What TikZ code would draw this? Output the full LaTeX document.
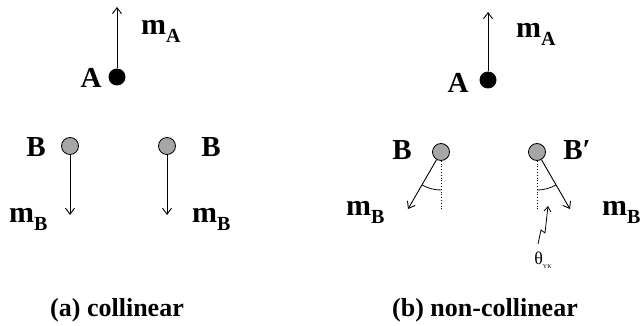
\documentclass[tikz,border=0pt]{standalone}
\usepackage{fontspec}
\setmainfont{Liberation Serif}
\usetikzlibrary{arrows.meta}
\newcommand{\msub}[1]{{\bfseries m\raisebox{-8pt}{\fontsize{20}{20}\selectfont #1}}}
\begin{document}
\begin{tikzpicture}[x=1pt,y=-1pt,
  lbl/.style={font=\fontsize{29}{29}\selectfont\bfseries, inner sep=0pt},
  mlbl/.style={font=\fontsize{30}{30}\selectfont, inner sep=0pt, anchor=base west},
  captext/.style={font=\fontsize{26}{26}\selectfont\bfseries, inner sep=0pt},
  adot/.style={circle, fill=black, minimum size=17pt, inner sep=0pt},
  bdot/.style={circle, draw=black, line width=0.8pt, fill=gray!70, minimum size=17pt, inner sep=0pt},
  vec/.style={line width=0.9pt, -{Straight Barb[length=6pt,width=9pt]}},
  ref/.style={line width=0.8pt, dotted},
  ang/.style={line width=0.8pt}]
\useasboundingbox (0,0) rectangle (641,326);
% ---- (a) collinear ----
\node[adot] (A1) at (117,77) {};
\coordinate (A1t) at (117,7);
\draw[vec] (A1) -- (A1t);
\node[lbl] (A1l) at (91,78) {A};
\node[mlbl] (mA1) at (141,35) {\msub{A}};
\node[bdot] (B1) at (70,146) {};
\coordinate (B1e) at (70,215);
\draw[vec] (B1) -- (B1e);
\node[lbl] (B1l) at (36,147) {B};
\node[mlbl] (mB1) at (9,223) {\msub{B}};
\node[bdot] (B2) at (167,146) {};
\coordinate (B2e) at (167,215);
\draw[vec] (B2) -- (B2e);
\node[lbl] (B2l) at (211,147) {B};
\node[mlbl] (mB2) at (192,223) {\msub{B}};
\node[captext] (capa) at (117,310) {(a) collinear};
% ---- (b) non-collinear ----
\node[adot] (A2) at (488,80) {};
\coordinate (A2t) at (488,12);
\draw[vec] (A2) -- (A2t);
\node[lbl] (A2l) at (458,83) {A};
\node[mlbl] (mA2) at (516,38) {\msub{A}};
\node[bdot] (B3) at (441,152) {};
\coordinate (B3e) at (408,209);
\draw[vec] (B3) -- (B3e);
\coordinate (B3d) at (441,210);
\draw[ref] (B3.south) -- (B3d);
\draw[ang] (441,190) arc[start angle=90, end angle=120, radius=38];
\node[lbl] (B3l) at (402,150) {B};
\node[mlbl] (mB3) at (346,216) {\msub{B}};
\node[bdot] (B4) at (537,152) {};
\coordinate (B4e) at (570,209);
\draw[vec] (B4) -- (B4e);
\coordinate (B4d) at (537,210);
\draw[ref] (B4.south) -- (B4d);
\draw[ang] (537,190) arc[start angle=90, end angle=60, radius=38];
\node[lbl] (B4l) at (577,150) {B′};
\node[mlbl] (mB4) at (602,216) {\msub{B}};
\node[inner sep=0pt, font=\fontsize{18}{18}\selectfont] (th) at (543,260) {θ\raisebox{-0.25em}{\fontsize{6}{6}\selectfont YK}};
\coordinate (thA) at (538,244);
\coordinate (thB) at (548,206);
\draw[line width=0.8pt, -{Straight Barb[length=5pt,width=7pt]}] (thA) -- (541,230) -- (545,233) -- (thB);
\node[captext] (capb) at (485,310) {(b) non-collinear};
\end{tikzpicture}
\end{document}
